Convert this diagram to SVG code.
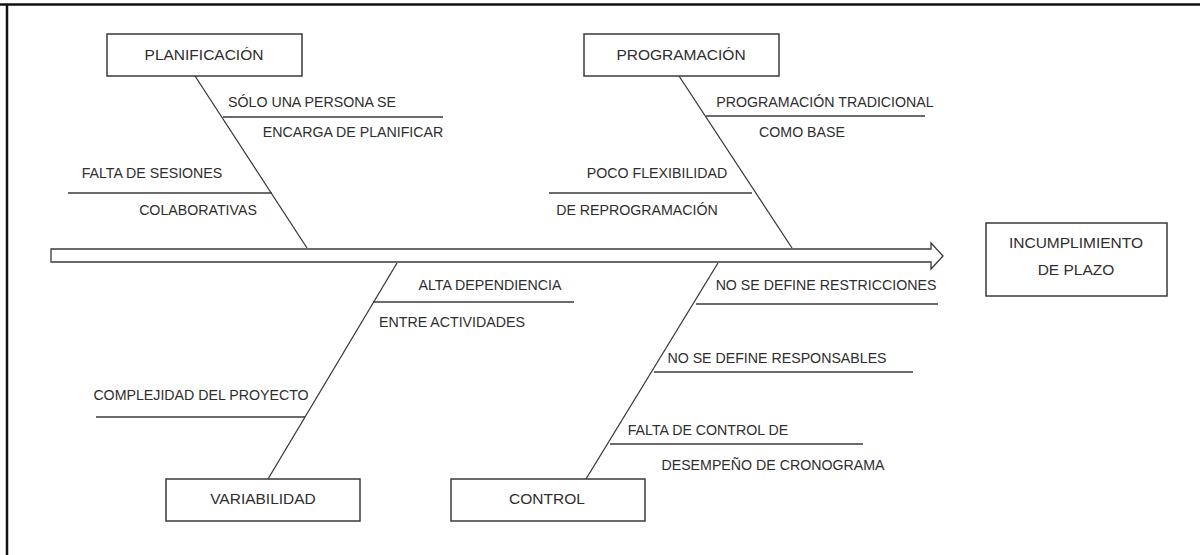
<svg xmlns="http://www.w3.org/2000/svg" width="1200" height="555" viewBox="0 0 1200 555">
<style>
.ln{stroke:#3a3a3a;stroke-width:1.3;fill:none}
.box{stroke:#3a3a3a;stroke-width:1.5;fill:#fff}
.t{font-family:"Liberation Sans",Arial,sans-serif;font-size:14.2px;fill:#2e2e2e;text-anchor:middle}
.bt{font-family:"Liberation Sans",Arial,sans-serif;font-size:15.5px;fill:#2e2e2e;text-anchor:middle}
</style>
<rect width="1200" height="555" fill="#fff"/>
<g id="frame">
<line x1="0" y1="4.5" x2="1200" y2="4.5" stroke="#111" stroke-width="2.5"/>
<line x1="7" y1="4" x2="7" y2="555" stroke="#111" stroke-width="2.5"/>
</g>
<g id="connectors">
<path id="spine" class="ln" d="M51,249 H931 V243 L943,256 L931,269 V262 H51 Z" stroke-width="1.5"/>
<line class="ln" x1="195" y1="76" x2="307" y2="248"/>
<line class="ln" x1="679" y1="76" x2="792" y2="248"/>
<line class="ln" x1="397" y1="263" x2="268" y2="479"/>
<line class="ln" x1="718" y1="263" x2="586" y2="479"/>
<line class="ln" x1="223" y1="117" x2="443" y2="117"/>
<line class="ln" x1="68" y1="193" x2="272" y2="193"/>
<line class="ln" x1="706" y1="116" x2="925" y2="116"/>
<line class="ln" x1="549" y1="193" x2="752" y2="193"/>
<line class="ln" x1="373" y1="302" x2="574" y2="302"/>
<line class="ln" x1="96" y1="417" x2="305" y2="417"/>
<line class="ln" x1="696" y1="304" x2="938" y2="304"/>
<line class="ln" x1="654" y1="372" x2="913" y2="372"/>
<line class="ln" x1="610" y1="444" x2="863" y2="444"/>
</g>
<g id="planificacion">
<rect class="box" x="107" y="34" width="195" height="42"/>
<text class="bt" x="204" y="60">PLANIFICACIÓN</text>
</g>
<g id="programacion">
<rect class="box" x="584" y="34" width="195" height="42"/>
<text class="bt" x="681" y="60">PROGRAMACIÓN</text>
</g>
<g id="variabilidad">
<rect class="box" x="166" y="479" width="194" height="42"/>
<text class="bt" x="263" y="504">VARIABILIDAD</text>
</g>
<g id="control">
<rect class="box" x="451" y="479" width="194" height="42"/>
<text class="bt" x="547" y="504">CONTROL</text>
</g>
<g id="efecto">
<rect class="box" x="986" y="223" width="181" height="73"/>
<text class="bt" x="1076" y="248">INCUMPLIMIENTO</text>
<text class="bt" x="1076" y="275">DE PLAZO</text>
</g>
<g id="causas">
<text class="t" x="312" y="107">SÓLO UNA PERSONA SE</text>
<text class="t" x="353" y="137">ENCARGA DE PLANIFICAR</text>
<text class="t" x="152" y="178">FALTA DE SESIONES</text>
<text class="t" x="198" y="215">COLABORATIVAS</text>
<text class="t" x="825" y="107">PROGRAMACIÓN TRADICIONAL</text>
<text class="t" x="802" y="137">COMO BASE</text>
<text class="t" x="657" y="178">POCO FLEXIBILIDAD</text>
<text class="t" x="637" y="215">DE REPROGRAMACIÓN</text>
<text class="t" x="490" y="290">ALTA DEPENDIENCIA</text>
<text class="t" x="452" y="327">ENTRE ACTIVIDADES</text>
<text class="t" x="201" y="400">COMPLEJIDAD DEL PROYECTO</text>
<text class="t" x="826" y="290">NO SE DEFINE RESTRICCIONES</text>
<text class="t" x="777" y="363">NO SE DEFINE RESPONSABLES</text>
<text class="t" x="708" y="435">FALTA DE CONTROL DE</text>
<text class="t" x="773" y="470">DESEMPEÑO DE CRONOGRAMA</text>
</g>
</svg>
